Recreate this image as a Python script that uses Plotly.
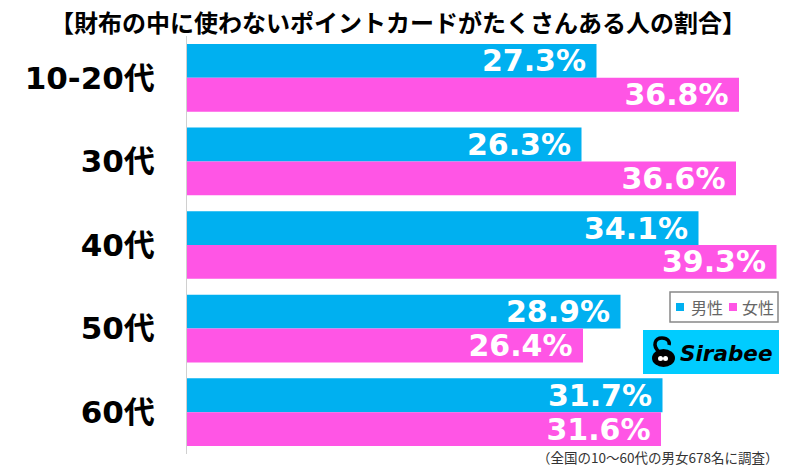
import plotly.graph_objects as go

categories = ["10-20代", "30代", "40代", "50代", "60代"]
male = [27.3, 26.3, 34.1, 28.9, 31.7]
female = [36.8, 36.6, 39.3, 26.4, 31.6]
series_names = ["男性", "女性"]
title_text = "【財布の中に使わないポイントカードがたくさんある人の割合】"
footnote = "（全国の10〜60代の男女678名に調査）"

BLUE = "#00B0F0"
PINK = "#FF55E5"
W, H = 800, 466
ML, MR, MT, MB = 187, 13, 36, 12
PW, PH = W - ML - MR, H - MT - MB


def px(x):
    return (x - ML) / PW


def py(y):
    return 1 - (y - MT) / PH


num_font = "DejaVu Sans, Noto Sans CJK JP, sans-serif"
jp_font = "Noto Sans CJK JP"

fig = go.Figure()
for name, vals, col in [(series_names[0], male, BLUE), (series_names[1], female, PINK)]:
    fig.add_trace(go.Bar(
        y=categories, x=vals, name=name, orientation="h",
        marker=dict(color=col, line=dict(width=0)),
        texttemplate="%{x:.1f}%\u2005", textposition="inside",
        insidetextanchor="end", constraintext="none",
        textfont=dict(family=num_font, size=30, color="white", weight="bold"),
        hoverinfo="skip", showlegend=False,
    ))

shapes = [
    # legend box
    dict(type="rect", xref="paper", yref="paper", x0=px(670), x1=px(778), y0=py(322), y1=py(292),
         fillcolor="white", line=dict(color="#888888", width=1.5), layer="above"),
    dict(type="rect", xref="paper", yref="paper", x0=px(676), x1=px(684), y0=py(311), y1=py(303),
         fillcolor=BLUE, line=dict(width=0), layer="above"),
    dict(type="rect", xref="paper", yref="paper", x0=px(729), x1=px(737), y0=py(311), y1=py(303),
         fillcolor=PINK, line=dict(width=0), layer="above"),
    # logo background
    dict(type="rect", xref="paper", yref="paper", x0=px(643), x1=px(779), y0=py(374), y1=py(330),
         fillcolor="#00CCFF", line=dict(width=0), layer="above"),
    # logo icon
    dict(type="circle", xref="paper", yref="paper", x0=px(652), x1=px(675), y0=py(367), y1=py(349),
         fillcolor="black", line=dict(width=0), layer="above"),
    dict(type="path", xref="paper", yref="paper",
         path=f"M {px(659)} {py(352)} C {px(652)} {py(345)}, {px(655)} {py(338)}, {px(662)} {py(338)} C {px(668)} {py(338)}, {px(670)} {py(342)}, {px(669)} {py(345)}",
         line=dict(color="black", width=3.5), layer="above"),
    dict(type="circle", xref="paper", yref="paper", x0=px(658), x1=px(663), y0=py(361), y1=py(356),
         fillcolor="white", line=dict(width=0), layer="above"),
    dict(type="circle", xref="paper", yref="paper", x0=px(663), x1=px(668), y0=py(361), y1=py(356),
         fillcolor="white", line=dict(width=0), layer="above"),
]

annotations = [
    dict(text=title_text, x=px(398), xref="paper", y=py(21), yref="paper",
         xanchor="center", yanchor="middle", showarrow=False,
         font=dict(family=jp_font, size=24, color="black", weight="bold")),
    dict(text=footnote, x=px(780), xref="paper", y=py(457), yref="paper",
         xanchor="right", yanchor="middle", showarrow=False,
         font=dict(family=jp_font, size=13.5, color="#333333")),
    dict(text=series_names[0], x=px(689), xref="paper", y=py(307), yref="paper",
         xanchor="left", yanchor="middle", showarrow=False,
         font=dict(family=jp_font, size=16, color="#666666")),
    dict(text=series_names[1], x=px(740), xref="paper", y=py(307), yref="paper",
         xanchor="left", yanchor="middle", showarrow=False,
         font=dict(family=jp_font, size=16, color="#666666")),
    dict(text="<i><b>Sirabee</b></i>", x=px(726), xref="paper", y=py(353), yref="paper",
         xanchor="center", yanchor="middle", showarrow=False,
         font=dict(family="DejaVu Sans", size=21.5, color="black")),
]

fig.update_layout(
    width=W, height=H,
    margin=dict(l=ML, r=MR, t=MT, b=MB, pad=0, autoexpand=False),
    paper_bgcolor="white", plot_bgcolor="white",
    barmode="group", bargap=0.19, bargroupgap=0,
    showlegend=False,
    xaxis=dict(range=[0, 40], visible=False, fixedrange=True, automargin=False),
    yaxis=dict(
        autorange="reversed", showline=True, linecolor="#d0d0d0", linewidth=1,
        ticks="", showgrid=False, zeroline=False, ticklabelstandoff=25,
        tickfont=dict(family=num_font, size=31, color="black", weight="bold"),
        fixedrange=True, automargin=False,
    ),
    shapes=shapes, annotations=annotations,
    uniformtext=dict(mode=False),
)

fig.write_html(
    "out.html",
    config={"displayModeBar": False},
    post_script="document.body.style.margin='0';document.body.style.overflow='hidden';",
)
